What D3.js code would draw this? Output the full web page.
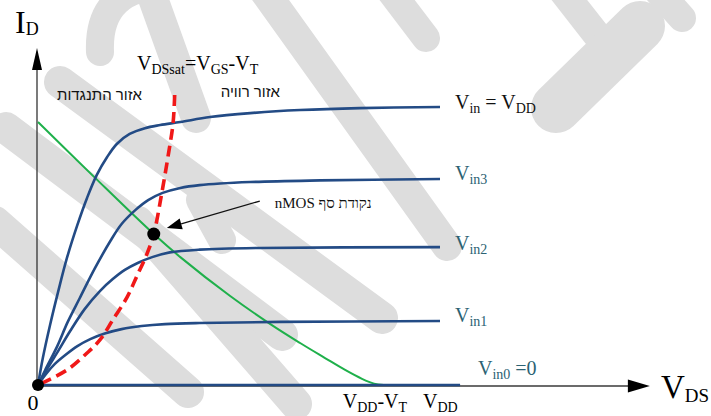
<!DOCTYPE html>
<html>
<head>
<meta charset="utf-8">
<script src="https://cdn.jsdelivr.net/npm/d3@7"></script>
<style>
  body { margin: 0; background: #fff; }
  svg { display: block; }
  .serif { font-family: "Liberation Serif", "Times New Roman", serif; }
  .heb { font-family: "Liberation Sans", "DejaVu Sans", sans-serif; }
</style>
</head>
<body>
<svg id="chart" width="711" height="416"></svg>
<script>
// Output characteristics of an nMOS transistor.
// VDS in volts, ID in percent of the Vin = VDD saturation current.
const VDD = 5;
const VDD_MINUS_VT = 4.30;
const axisExtent = { vds: 7.61, id: 121.2 };

const curveVinVDD = [[0,0],[0.06,9.7],[0.15,21.6],[0.25,33.5],[0.36,45.7],[0.49,57.6],[0.61,67.3],[0.73,75.5],[0.86,82.0],[0.98,86.7],[1.14,90.3],[1.33,92.4],[1.52,93.5],[1.77,94.6],[2.14,96.4],[2.64,97.8],[3.26,98.9],[4.00,99.6],[5.00,100]];
const curveVin3 = [[0,0],[0.09,5.4],[0.24,14.0],[0.37,22.7],[0.52,31.3],[0.71,42.1],[0.90,51.8],[1.04,57.9],[1.21,62.9],[1.37,66.5],[1.55,69.1],[1.77,70.9],[2.01,71.9],[2.64,73.0],[3.51,73.6],[5.00,74.1]];
const curveVin2 = [[0,0],[0.12,6.1],[0.25,12.2],[0.40,19.4],[0.58,27.3],[0.77,33.8],[0.93,38.1],[1.08,41.4],[1.24,43.9],[1.42,46.0],[1.64,47.7],[2.01,48.7],[2.76,49.3],[5.00,49.6]];
const curveVin1 = [[0,0],[0.10,4.0],[0.21,7.6],[0.34,10.8],[0.49,14.0],[0.65,16.5],[0.83,18.5],[1.04,20.1],[1.29,21.2],[1.58,21.9],[2.01,22.3],[3.01,22.7],[5.00,23.0]];
const curveVin0 = [[0,0],[5.25,0]];

// Saturation boundary VDSsat = VGS - VT, listed from the top down
const satBoundary = [[1.70,104.3],[1.68,94.2],[1.62,82.7],[1.54,69.1],[1.44,54.3],[1.36,47.5],[1.23,39.2],[1.11,31.7],[0.93,23.4],[0.77,16.2],[0.61,11.5],[0.36,5.4],[0,0]];

// Load line of the inverter
const loadLine = [[0,94.6],[0.71,74.5],[1.44,54.3],[1.77,46.0],[2.39,32.0],[2.89,21.9],[3.26,15.1],[3.57,9.7],[3.82,5.4],[4.03,2.2],[4.18,0.5],[4.30,0]];

// nMOS threshold point
const thresholdPoint = [1.44, 54.3];

const curveLabels = [
  { main: "V", sub: "in", rest: " = V", sub2: "DD", level: 100, color: "#111", dy: 2 },
  { main: "V", sub: "in3", level: 74.1, color: "#2b6273", dy: 1 },
  { main: "V", sub: "in2", level: 49.6, color: "#2b6273", dy: 3 },
  { main: "V", sub: "in1", level: 23.0, color: "#2b6273", dy: 1 }
];

const svg = d3.select("#chart");
const x = d3.scaleLinear().domain([0, VDD]).range([38, 440]);
const y = d3.scaleLinear().domain([0, 100]).range([385, 107]);

// faint background emblem
const wm = svg.append("g").attr("fill", "none").attr("stroke", "#dddddd")
  .attr("stroke-linecap", "round").attr("stroke-linejoin", "round");
const wmPaths = [
  ["M100,52 C98,5 125,-14 165,-14", 28],
  ["M150,-10 L196,118", 30],
  ["M262,-12 L447,246", 30],
  ["M388,-12 L426,38", 28],
  ["M560,-12 L596,34", 28],
  ["M556,108 L640,26", 50],
  ["M655,-12 L682,18", 28],
  ["M60,82 L382,318", 32],
  ["M6,128 L282,335", 32],
  ["M-5,222 L188,392", 32],
  ["M138,222 L296,404", 32],
  ["M200,200 L222,240", 28]
];
wmPaths.forEach(([d, w]) => wm.append("path").attr("d", d).attr("stroke-width", w));

const line = d3.line().x(d => x(d[0])).y(d => y(d[1])).curve(d3.curveCatmullRom.alpha(0.5));

// axes
const x0 = x(0), y0 = y(0);
const xEnd = x(axisExtent.vds), yEnd = y(axisExtent.id);
svg.append("line").attr("x1", x0 - 1).attr("y1", y0).attr("x2", x0 - 1).attr("y2", yEnd + 18)
  .attr("stroke", "#333").attr("stroke-width", 1.3);
svg.append("path").attr("d", `M${x0 - 1},${yEnd} L${x0 - 6},${yEnd + 22} L${x0 + 4},${yEnd + 22} Z`).attr("fill", "#000");
svg.append("line").attr("x1", x0).attr("y1", y0 + 1).attr("x2", xEnd - 20).attr("y2", y0 + 1)
  .attr("stroke", "#6b6b6b").attr("stroke-width", 2);
svg.append("path").attr("d", `M${xEnd},${y0 + 1} L${xEnd - 22},${y0 - 5.5} L${xEnd - 22},${y0 + 7.5} Z`).attr("fill", "#000");

// load line
svg.append("path").attr("d", line(loadLine)).attr("fill", "none")
  .attr("stroke", "#1fb04b").attr("stroke-width", 2);

// characteristic curves
[curveVinVDD, curveVin3, curveVin2, curveVin1, curveVin0].forEach(c => {
  svg.append("path").attr("d", line(c)).attr("fill", "none")
    .attr("stroke", "#234b85").attr("stroke-width", 2.6);
});

// saturation boundary
svg.append("path").attr("d", line(satBoundary)).attr("fill", "none")
  .attr("stroke", "#f01818").attr("stroke-width", 3.6).attr("stroke-dasharray", "11,6");

// points
svg.append("circle").attr("cx", x(0)).attr("cy", y(0)).attr("r", 6).attr("fill", "#000");
const tp = [x(thresholdPoint[0]), y(thresholdPoint[1])];
svg.append("circle").attr("cx", tp[0]).attr("cy", tp[1]).attr("r", 6.5).attr("fill", "#000");

// annotation arrow
const tail = [tp[0] + 106, tp[1] - 33];
const tip = [tp[0] + 13, tp[1] - 6];
const ang = Math.atan2(tip[1] - tail[1], tip[0] - tail[0]);
const hl = 15, hw = 5.5;
const base = [tip[0] - hl * Math.cos(ang), tip[1] - hl * Math.sin(ang)];
svg.append("line").attr("x1", tail[0]).attr("y1", tail[1]).attr("x2", base[0]).attr("y2", base[1])
  .attr("stroke", "#111").attr("stroke-width", 1.3);
svg.append("path").attr("d",
  `M${tip[0]},${tip[1]} L${base[0] - hw * Math.sin(ang)},${base[1] + hw * Math.cos(ang)} L${base[0] + hw * Math.sin(ang)},${base[1] - hw * Math.cos(ang)} Z`)
  .attr("fill", "#000");
svg.append("text").attr("class", "serif").attr("x", tail[0] + 15).attr("y", tail[1] + 7)
  .attr("font-size", 15).attr("fill", "#111").text("nMOS נקודת סף");

// text with subscripts
function subText(xp, yp, parts, size, color, anchor) {
  const t = svg.append("text").attr("class", "serif").attr("x", xp).attr("y", yp)
    .attr("font-size", size).attr("fill", color).attr("text-anchor", anchor || "start");
  parts.forEach(p => {
    const s = t.append("tspan").text(p.t);
    if (p.sub) s.attr("font-size", p.fs || size * 0.7).attr("dy", p.dy || 4);
    else if (p.dy) s.attr("dy", p.dy);
  });
  return t;
}

// curve labels
curveLabels.forEach(l => {
  const parts = [{ t: l.main }, { t: l.sub, sub: true, dy: 4 }];
  if (l.rest) { parts.push({ t: l.rest, dy: -4 }); parts.push({ t: l.sub2, sub: true, dy: 4 }); }
  subText(x(VDD) + 15, y(l.level) + l.dy, parts, 20, l.color);
});
subText(x(VDD) + 38, y(0) - 10, [{ t: "V" }, { t: "in0", sub: true, dy: 4 }, { t: " =0", dy: -4 }], 20, "#2b6273");

// axis titles
subText(15, 33, [{ t: "I" }, { t: "D", sub: true, fs: 18, dy: 2 }], 32, "#000");
subText(661, 398, [{ t: "V" }, { t: "DS", sub: true, fs: 19, dy: 4 }], 33, "#000");
svg.append("text").attr("class", "serif").attr("x", x0 - 5).attr("y", 410)
  .attr("font-size", 22).attr("text-anchor", "middle").text("0");
subText(x(VDD_MINUS_VT) - 41, 408, [{ t: "V" }, { t: "DD", sub: true, dy: 4 }, { t: "-", dy: -4 }, { t: "V" }, { t: "T", sub: true, dy: 4 }], 20, "#000");
subText(x(VDD) - 17, 408, [{ t: "V" }, { t: "DD", sub: true, dy: 4 }], 20, "#000");

// saturation boundary title
subText(137, 70, [{ t: "V" }, { t: "DSsat", sub: true, dy: 4 }, { t: "=V", dy: -4 }, { t: "GS", sub: true, dy: 4 }, { t: "-", dy: -4 }, { t: "V" }, { t: "T", sub: true, dy: 4 }], 20, "#000");

// region names
svg.append("text").attr("class", "heb").attr("x", 142).attr("y", 100).attr("text-anchor", "end")
  .attr("font-size", 15).attr("fill", "#111").text("אזור התנגדות");
svg.append("text").attr("class", "heb").attr("x", 280).attr("y", 97).attr("text-anchor", "end")
  .attr("font-size", 15).attr("fill", "#111").text("אזור רוויה");
</script>
</body>
</html>
